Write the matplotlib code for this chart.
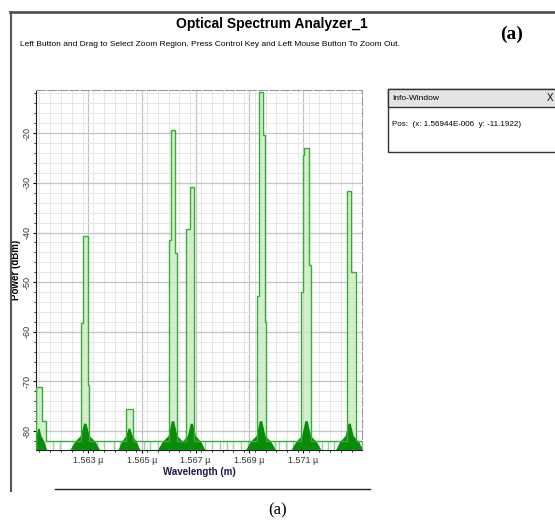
#!/usr/bin/env python3
import numpy as np
import matplotlib as mpl
import matplotlib.pyplot as plt
from matplotlib.ticker import MultipleLocator, FixedLocator

mpl.use('Agg')

# +
# data (wavelength in micrometre, power in dBm)
# -
x_min, x_max = 1.56107, 1.57318
y_min, y_max = -83.8, -11.3
floor_level = -82.0

# spectral segments: start, end, power
seg_start = [1.56107, 1.56130, 1.56275, 1.56282, 1.56299, 1.56441,
             1.56602, 1.56610, 1.56625, 1.56666, 1.56678,
             1.56929, 1.56936, 1.56949, 1.56958,
             1.57092, 1.57098, 1.57104, 1.57122, 1.57262, 1.57276]
seg_end = [1.56130, 1.56144, 1.56282, 1.56299, 1.56305, 1.56467,
           1.56610, 1.56625, 1.56630, 1.56678, 1.56695,
           1.56936, 1.56949, 1.56958, 1.56962,
           1.57098, 1.57104, 1.57122, 1.57128, 1.57276, 1.57294]
seg_power = [-71.2, -77.9, -58.2, -40.7, -70.8, -75.6,
             -41.5, -19.4, -44.1, -39.2, -30.9,
             -52.7, -11.7, -20.4, -58.1,
             -52.0, -24.4, -22.9, -46.6, -31.6, -48.0]

# noise skirts around each channel: centre, half width, top
skirt_center = [1.56118, 1.56290, 1.56454, 1.56616, 1.56686, 1.56943, 1.57112, 1.57272]
skirt_half = [0.00030, 0.00055, 0.00040, 0.00055, 0.00050, 0.00055, 0.00055, 0.00050]
skirt_top = [-79.5, -78.5, -79.5, -78.0, -78.5, -78.0, -78.0, -78.5]

# pale gaps in the noise floor
gap_x = [1.56170, 1.56195, 1.56255, 1.56335, 1.56360, 1.56395, 1.56420, 1.56510,
         1.56530, 1.56560, 1.56580, 1.56660, 1.56735, 1.56760, 1.56790, 1.56815,
         1.56840, 1.56870, 1.56895, 1.56995, 1.57010, 1.57035, 1.57060, 1.57170,
         1.57190, 1.57215, 1.57240, 1.57305]

x_ticks = [1.563, 1.565, 1.567, 1.569, 1.571]
y_ticks = [-20, -30, -40, -50, -60, -70, -80]

# +
# build step spectrum
# -
edges = [x_min]
levels = []
for _s, _e, _p in sorted(zip(seg_start, seg_end, seg_power)):
    if _s > edges[-1]:
        levels.append(floor_level)
        edges.append(_s)
    levels.append(_p)
    edges.append(_e)
if edges[-1] < x_max:
    levels.append(floor_level)
    edges.append(x_max)
# only the channels themselves get the light fill
fill_levels = [_l if _l > floor_level else y_min for _l in levels]

# +
# figure
# -
plt.rcParams['font.family'] = ['Liberation Sans', 'DejaVu Sans']
fig = plt.figure(figsize=(5.55, 5.23), dpi=100)
ax = fig.add_axes([36 / 555, 1 - 450 / 523, 326 / 555, 360 / 523])

ax.set_xlim(x_min, x_max)
ax.set_ylim(y_min, y_max)

ax.xaxis.set_major_locator(FixedLocator(x_ticks))
ax.xaxis.set_minor_locator(MultipleLocator(0.0004))
ax.yaxis.set_major_locator(FixedLocator(y_ticks))
ax.yaxis.set_minor_locator(MultipleLocator(2))
ax.grid(which='major', color='#c4c4c4', lw=0.9)
ax.grid(which='minor', color='#e6e6e6', lw=0.7)
ax.set_axisbelow(True)

# spectrum
ax.stairs(fill_levels, edges, baseline=y_min, fill=True, color='#c9ecc2', alpha=0.8, zorder=2)
ax.vlines(gap_x, y_min, floor_level, color='#9ad69a', lw=1.0, zorder=3)

# noise skirts
for _c, _h, _t in zip(skirt_center, skirt_half, skirt_top):
    ax.fill([_c - _h, _c - _h * 0.7, _c - _h * 0.3, _c - _h * 0.08,
             _c + _h * 0.08, _c + _h * 0.3, _c + _h * 0.7, _c + _h],
            [y_min, -82.2, -81.0, _t, _t, -81.0, -82.2, y_min],
            color='#0a8c0a', lw=0, zorder=3)

ax.stairs(levels, edges, baseline=y_min, fill=False, color='#3aaa3a', lw=1.0, zorder=4)

# spines
for _k in ['top', 'right']:
    ax.spines[_k].set_linestyle((0, (8, 2)))
    ax.spines[_k].set_color('#9a9a9a')
    ax.spines[_k].set_linewidth(0.8)
ax.spines['left'].set_color('#222222')
ax.spines['bottom'].set_color('#222222')

ax.set_xticklabels([f"{_v:.3f} \u00b5" for _v in x_ticks], fontsize=6.5, color='#333333')
ax.set_yticklabels([f"{_v}" for _v in y_ticks], fontsize=6.5, color='#333333',
                   rotation=90, va='center')
ax.tick_params(which='major', length=2.5, width=0.8, pad=2)
ax.tick_params(axis='y', which='major', pad=0.8)
ax.tick_params(which='minor', length=1.6, width=0.6)
ax.set_xlabel('Wavelength (m)', fontsize=7, fontweight='bold', color='#1a1a4a', labelpad=1)
ax.set_ylabel('Power (dBm)', fontsize=7, fontweight='bold')
ax.yaxis.set_label_coords(-15 / 326, 0.5)

# +
# window chrome
# -
fig.add_artist(plt.Line2D([10 / 555, 1.0], [1 - 12 / 523, 1 - 12 / 523], color='#555555', lw=2))
fig.add_artist(plt.Line2D([11 / 555, 11 / 555], [1 - 12 / 523, 1 - 491 / 523], color='#555555', lw=1.5))
fig.add_artist(plt.Line2D([55 / 555, 370 / 555], [1 - 489 / 523, 1 - 489 / 523], color='#222222', lw=1))

fig.text(272 / 555, 1 - 24 / 523, 'Optical Spectrum Analyzer_1', ha='center', va='center',
         fontsize=10, fontweight='bold')
fig.text(20 / 555, 1 - 44 / 523,
         'Left Button and Drag to Select Zoom Region. Press Control Key and Left Mouse Button To Zoom Out.',
         ha='left', va='center', fontsize=6.0)
fig.text(512 / 555, 1 - 34 / 523, '(a)', ha='center', va='center', fontsize=14,
         fontweight='bold', family='Liberation Serif')
fig.text(278 / 555, 1 - 510 / 523, '(a)', ha='center', va='center', fontsize=12,
         family='Liberation Serif')

# info window
fig.add_artist(plt.Rectangle((388 / 555, 1 - 152 / 523), 170 / 555, 63 / 523,
                             fill=False, ec='#333333', lw=1))
fig.add_artist(plt.Rectangle((388 / 555, 1 - 107 / 523), 170 / 555, 18 / 523,
                             fc='#e4e4e4', ec='#333333', lw=1))
fig.text(392 / 555, 1 - 98 / 523, 'Info-Window', ha='left', va='center', fontsize=6)
fig.text(550 / 555, 1 - 98 / 523, 'X', ha='center', va='center', fontsize=7)
fig.text(392 / 555, 1 - 125 / 523, 'Pos:  (x: 1.56944E-006  y: -11.1922)', ha='left',
         va='center', fontsize=5.8)

plt.savefig('out.png', dpi=100)
